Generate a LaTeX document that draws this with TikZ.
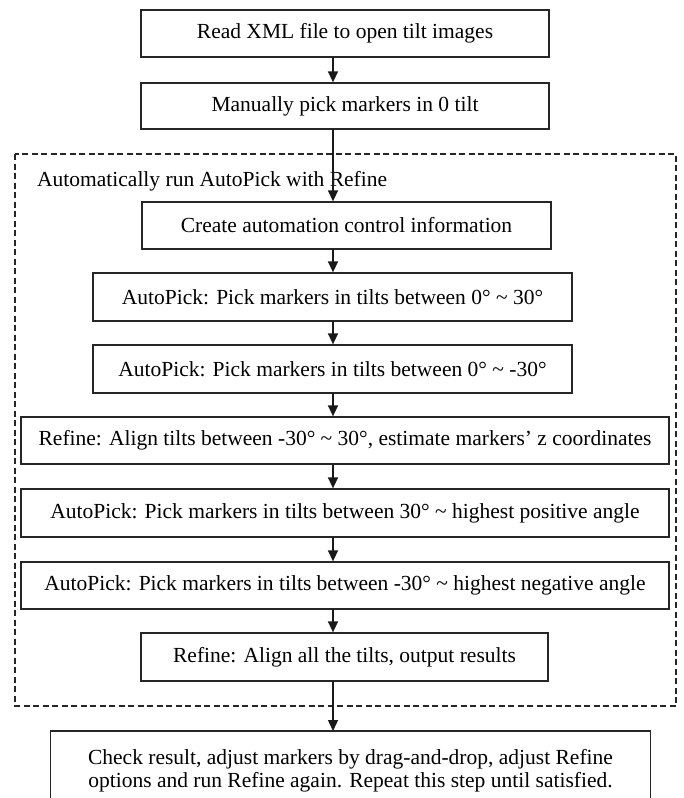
\documentclass[tikz,border=0pt]{standalone}
\usepackage{fontspec}
\setmainfont{Liberation Serif}
\usetikzlibrary{arrows.meta}
\begin{document}
\begin{tikzpicture}[x=1pt,y=-1pt,
  stepbox/.style={draw=black!85,line width=1.3pt,rectangle,inner sep=0pt,
    font=\fontsize{21.5}{23}\selectfont,text=black},
  flowarrow/.style={line width=1.4pt,draw=black!90,-{Triangle[length=11pt,width=10pt]}},
  groupframe/.style={draw=black!85,line width=1.1pt,dash pattern=on 6pt off 3.5pt},
  grouplabel/.style={inner sep=0pt,font=\fontsize{21.5}{23}\selectfont,text=black}]
\useasboundingbox (0,0) rectangle (683,798);
\coordinate (ax) at (333,0);
\coordinate (bot) at (0,798);

\node[stepbox,minimum width=408pt,minimum height=47pt] (b1) at (345,33.5) {Read XML file to open tilt images};
\node[stepbox,minimum width=408pt,minimum height=46pt] (b2) at (345,106) {Manually pick markers in 0 tilt};

\draw[groupframe] (15,154) rectangle (676,706);
\node[grouplabel,anchor=base west] (lbl) at (37,186) {Automatically run AutoPick with Refine};

\node[stepbox,minimum width=409pt,minimum height=47pt] (b3) at (346.5,225.5) {Create automation control information};
\node[stepbox,minimum width=479pt,minimum height=48pt] (b4) at (332.5,297) {AutoPick: Pick markers in tilts between 0° \textasciitilde{} 30°};
\node[stepbox,minimum width=479pt,minimum height=48pt] (b5) at (332.5,369) {AutoPick: Pick markers in tilts between 0° \textasciitilde{} -30°};
\node[stepbox,minimum width=648pt,minimum height=47pt] (b6) at (345,440.5) {Refine: Align tilts between -30° \textasciitilde{} 30°, estimate markers’ z coordinates};
\node[stepbox,minimum width=648pt,minimum height=48pt] (b7) at (345,513) {AutoPick: Pick markers in tilts between 30° \textasciitilde{} highest positive angle};
\node[stepbox,minimum width=648pt,minimum height=47pt] (b8) at (345,585.5) {AutoPick: Pick markers in tilts between -30° \textasciitilde{} highest negative angle};
\node[stepbox,minimum width=407pt,minimum height=48pt] (b9) at (344.5,657) {Refine: Align all the tilts, output results};

\node[stepbox,draw=none,align=center,anchor=north,minimum width=599pt,minimum height=78pt] (b10) at (350.5,731)
  {Check result, adjust markers by drag-and-drop, adjust Refine\\options and run Refine again. Repeat this step until satisfied.};
\draw[draw=black!85,line width=1.3pt] (b10.south west |- bot) -- (b10.north west) -- (b10.north east) -- (b10.south east |- bot);

\draw[flowarrow] (b1.south -| ax) -- (b2.north -| ax);
\draw[flowarrow] (b2.south -| ax) -- (b3.north -| ax);
\draw[flowarrow] (b3.south -| ax) -- (b4.north -| ax);
\draw[flowarrow] (b4.south -| ax) -- (b5.north -| ax);
\draw[flowarrow] (b5.south -| ax) -- (b6.north -| ax);
\draw[flowarrow] (b6.south -| ax) -- (b7.north -| ax);
\draw[flowarrow] (b7.south -| ax) -- (b8.north -| ax);
\draw[flowarrow] (b8.south -| ax) -- (b9.north -| ax);
\draw[flowarrow] (b9.south -| ax) -- (b10.north -| ax);
\end{tikzpicture}
\end{document}
